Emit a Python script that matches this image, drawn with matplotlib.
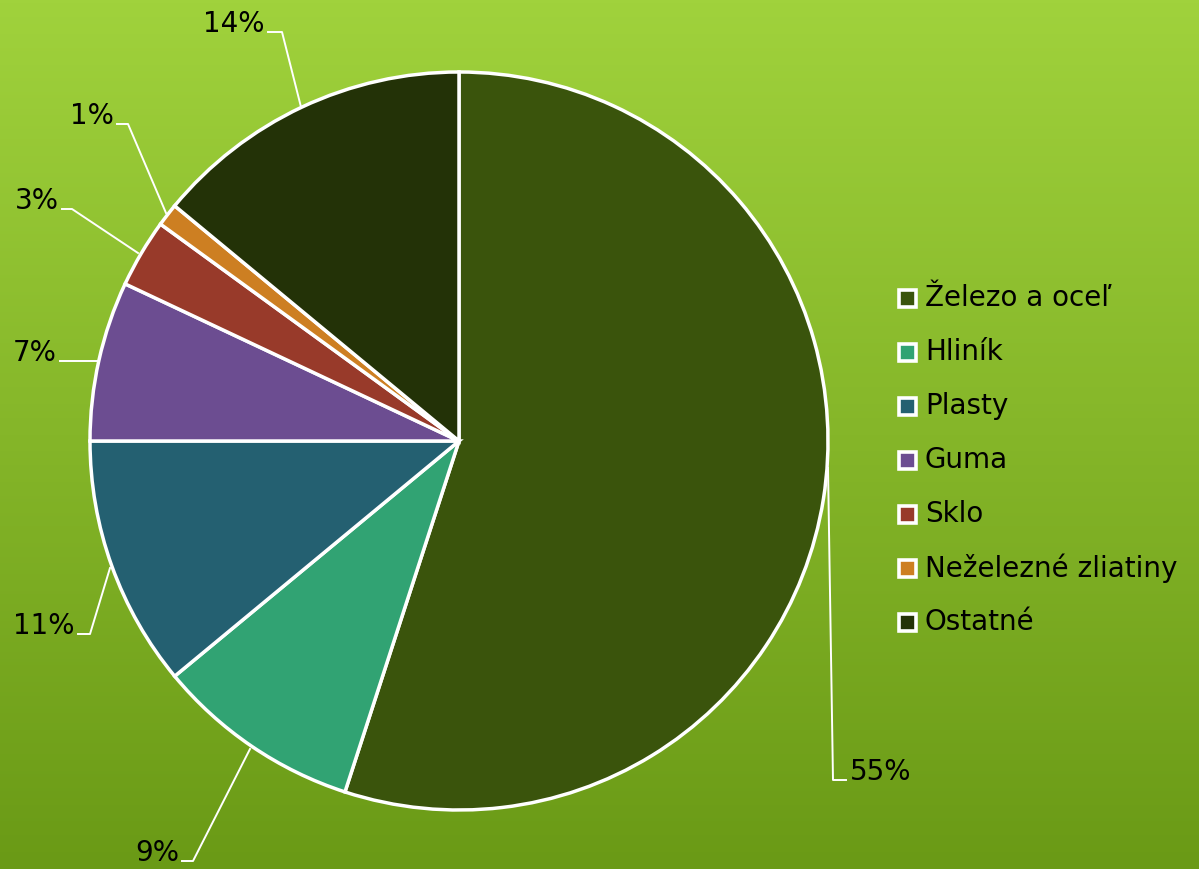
import matplotlib.pyplot as plt
import numpy as np
from matplotlib.colors import LinearSegmentedColormap
from matplotlib.patches import Rectangle

categories = ['Železo a oceľ', 'Hliník', 'Plasty', 'Guma', 'Sklo',
              'Neželezné zliatiny', 'Ostatné']
values = [55, 9, 11, 7, 3, 1, 14]
colors = ['#3a540c', '#31a373', '#246071', '#6c4d91', '#983a2a',
          '#cd7f22', '#233207']

W, H = 1199, 869

# leader lines (pixel coords, y measured from top): edge point, elbow, tail end
leaders = [
    [(828, 468), (833, 780), (846, 780)],
    [(250, 749), (193, 861), (182, 861)],
    [(110, 568), (90, 634), (78, 634)],
    [(97, 361), (97, 361), (60, 361)],
    [(138, 253), (72, 209), (62, 209)],
    [(166, 213), (128, 124), (117, 124)],
    [(301, 107), (282, 32), (268, 32)],
]

plt.rcParams['font.family'] = ['DejaVu Sans']

fig = plt.figure(figsize=(W / 100, H / 100), dpi=100)
ax = fig.add_axes([0, 0, 1, 1])

# background gradient
cmap = LinearSegmentedColormap.from_list('bg', ['#6a9a16', '#a0d23c'])
grad = np.linspace(0, 1, 256).reshape(-1, 1)
ax.imshow(grad, cmap=cmap, extent=(0, W, 0, H), origin='lower',
          aspect='auto', zorder=0)

ax.pie(values, colors=colors, center=(459, H - 441), radius=369,
       startangle=90, counterclock=False,
       wedgeprops=dict(edgecolor='white', linewidth=2.5), frame=True)
ax.set_xlim(0, W)
ax.set_ylim(0, H)
ax.set_aspect('equal')
ax.axis('off')

for v, pts in zip(values, leaders):
    xs = [p[0] for p in pts]
    ys = [H - p[1] for p in pts]
    ax.plot(xs, ys, color='white', lw=1.4, zorder=5)
    tx, ty = pts[-1]
    if tx > pts[0][0]:
        ax.text(tx + 4, H - ty, f'{v}%', ha='left', va='baseline',
                fontsize=20, color='black', zorder=6)
    else:
        ax.text(tx - 3, H - ty, f'{v}%', ha='right', va='baseline',
                fontsize=20, color='black', zorder=6)

# legend
for i, (name, c) in enumerate(zip(categories, colors)):
    yc = H - (298 + i * 54)
    ax.add_patch(Rectangle((899, yc - 8.5), 17, 17, facecolor=c,
                           edgecolor='white', linewidth=2.6, zorder=6))
    ax.text(925, yc, name, ha='left', va='center', fontsize=20,
            color='black', zorder=6)

fig.savefig('out.png', dpi=100)
